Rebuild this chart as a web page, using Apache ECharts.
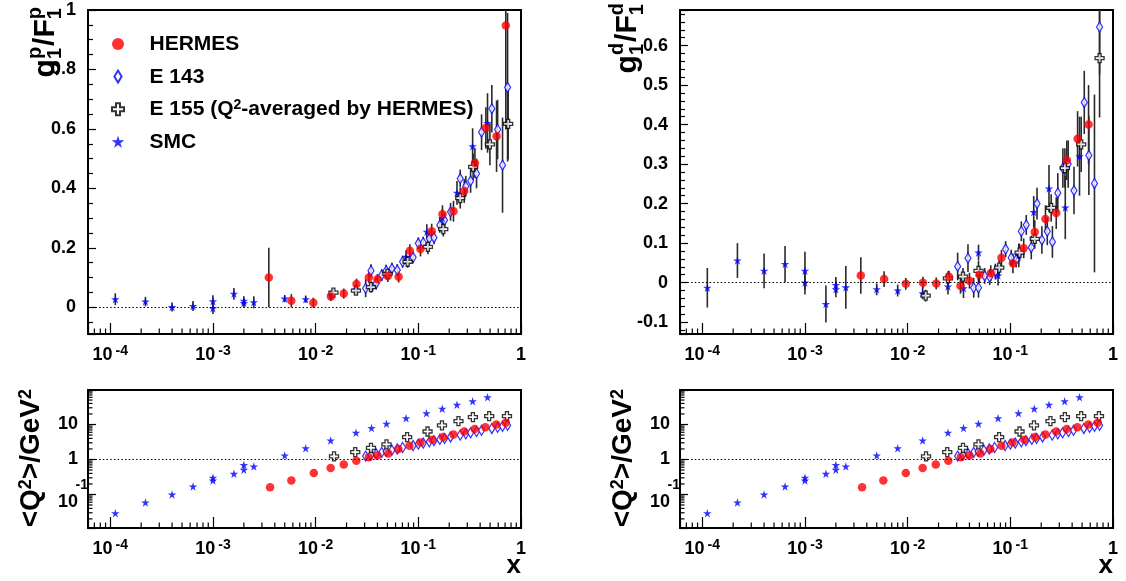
<!DOCTYPE html>
<html>
<head>
<meta charset="utf-8">
<script src="https://cdn.jsdelivr.net/npm/echarts@6.0.0/dist/echarts.min.js"></script>
<style>
  html, body { margin: 0; padding: 0; background: #fff; }
  #main { width: 1126px; height: 581px; }
</style>
</head>
<body>
<div id="main"></div>
<script>
// proton, g1/F1 : [x, value, error]
var hermesP = [
  [0.0035, 0.100, 0.100], [0.0058, 0.022, 0.022], [0.0095, 0.015, 0.017], [0.0141, 0.036, 0.015],
  [0.0188, 0.046, 0.017], [0.0250, 0.078, 0.018], [0.0330, 0.100, 0.018], [0.0400, 0.094, 0.018],
  [0.0505, 0.105, 0.020], [0.0643, 0.103, 0.020], [0.0828, 0.190, 0.022], [0.1050, 0.196, 0.025],
  [0.1350, 0.256, 0.025], [0.1720, 0.313, 0.030], [0.2200, 0.323, 0.035], [0.2800, 0.391, 0.040],
  [0.3560, 0.485, 0.050], [0.4550, 0.603, 0.070], [0.5780, 0.575, 0.120], [0.7110, 0.948, 0.350]
];
var e143P = [
  [0.0307, 0.064, 0.030], [0.0346, 0.123, 0.022], [0.0389, 0.080, 0.020], [0.0440, 0.108, 0.020],
  [0.0486, 0.123, 0.020], [0.0553, 0.130, 0.020], [0.0624, 0.125, 0.020], [0.0703, 0.153, 0.020],
  [0.0890, 0.168, 0.020], [0.1000, 0.215, 0.020], [0.1117, 0.217, 0.020], [0.1280, 0.231, 0.022],
  [0.1420, 0.234, 0.022], [0.1620, 0.276, 0.025], [0.1800, 0.293, 0.025], [0.2060, 0.321, 0.030],
  [0.2560, 0.433, 0.030], [0.2900, 0.407, 0.035], [0.3230, 0.425, 0.040], [0.3690, 0.450, 0.050],
  [0.4130, 0.589, 0.060], [0.5200, 0.668, 0.080], [0.5920, 0.598, 0.100], [0.6610, 0.478, 0.160],
  [0.7400, 0.740, 0.250]
];
var e155P = [
  [0.0149, 0.049, 0.012], [0.0247, 0.056, 0.015], [0.0346, 0.068, 0.018], [0.0500, 0.112, 0.020],
  [0.0787, 0.153, 0.020], [0.1240, 0.203, 0.025], [0.1750, 0.263, 0.025], [0.2560, 0.367, 0.035],
  [0.3420, 0.472, 0.045], [0.4980, 0.548, 0.070], [0.7500, 0.617, 0.120]
];
var smcP = [
  [0.000112, 0.027, 0.020], [0.00022, 0.019, 0.016], [0.00040, 0.001, 0.015], [0.00064, 0.004, 0.017],
  [0.00100, 0.020, 0.020], [0.00100, -0.003, 0.020], [0.0016, 0.045, 0.020], [0.0020, 0.022, 0.015],
  [0.0020, 0.014, 0.015], [0.0025, 0.017, 0.020], [0.0050, 0.029, 0.012], [0.0080, 0.027, 0.012],
  [0.0140, 0.040, 0.015], [0.0247, 0.060, 0.015], [0.0350, 0.069, 0.018], [0.0490, 0.115, 0.020],
  [0.0760, 0.170, 0.022], [0.1210, 0.254, 0.025], [0.1710, 0.300, 0.030], [0.2380, 0.385, 0.040],
  [0.3380, 0.542, 0.060], [0.4720, 0.620, 0.100]
];

// deuteron, g1/F1 : [x, value, error]
var hermesD = [
  [0.0035, 0.018, 0.046], [0.0059, 0.009, 0.020], [0.0096, -0.003, 0.015], [0.0141, 0.000, 0.015],
  [0.0190, -0.002, 0.015], [0.0253, 0.015, 0.015], [0.0327, -0.008, 0.020], [0.0400, 0.005, 0.020],
  [0.0500, 0.020, 0.020], [0.0645, 0.024, 0.020], [0.0820, 0.063, 0.020], [0.1060, 0.049, 0.025],
  [0.1350, 0.087, 0.025], [0.1730, 0.128, 0.030], [0.2200, 0.161, 0.035], [0.2800, 0.176, 0.040],
  [0.3550, 0.310, 0.050], [0.4520, 0.364, 0.070], [0.5780, 0.400, 0.100]
];
var e143D = [
  [0.0307, 0.041, 0.035], [0.0387, 0.062, 0.035], [0.0440, -0.013, 0.025], [0.0490, -0.013, 0.025],
  [0.0563, 0.017, 0.020], [0.0630, 0.014, 0.020], [0.0715, 0.028, 0.020], [0.0900, 0.085, 0.020],
  [0.1020, 0.063, 0.020], [0.1140, 0.058, 0.020], [0.1280, 0.130, 0.025], [0.1430, 0.146, 0.025],
  [0.1600, 0.089, 0.030], [0.1820, 0.200, 0.040], [0.2030, 0.108, 0.035], [0.2290, 0.130, 0.035],
  [0.2570, 0.103, 0.040], [0.2900, 0.227, 0.050], [0.3250, 0.290, 0.050], [0.3660, 0.300, 0.060],
  [0.4170, 0.233, 0.060], [0.5250, 0.456, 0.080], [0.5820, 0.322, 0.100], [0.6600, 0.251, 0.225],
  [0.7400, 0.647, 0.120]
];
var e155D = [
  [0.0150, -0.033, 0.015], [0.0247, 0.011, 0.018], [0.0346, 0.015, 0.022], [0.0490, 0.030, 0.025],
  [0.0780, 0.038, 0.020], [0.1230, 0.076, 0.022], [0.1730, 0.111, 0.025], [0.2500, 0.189, 0.035],
  [0.3400, 0.290, 0.050], [0.4900, 0.350, 0.070], [0.7400, 0.568, 0.150]
];
var smcD = [
  [0.000112, -0.013, 0.050], [0.00022, 0.056, 0.044], [0.00040, 0.030, 0.044], [0.00064, 0.047, 0.046],
  [0.00100, 0.030, 0.048], [0.00100, 0.000, 0.030], [0.0016, -0.054, 0.047], [0.0020, -0.006, 0.020],
  [0.0020, -0.017, 0.020], [0.0025, -0.012, 0.054], [0.0050, -0.017, 0.015], [0.0080, -0.020, 0.015],
  [0.0140, -0.027, 0.015], [0.0247, -0.010, 0.020], [0.0350, -0.014, 0.025], [0.0490, 0.076, 0.020],
  [0.0760, 0.018, 0.025], [0.1210, 0.069, 0.030], [0.1690, 0.179, 0.040], [0.2380, 0.238, 0.060],
  [0.3430, 0.190, 0.080], [0.4720, 0.320, 0.100]
];

// <Q^2> in GeV^2 : [x, Q2]
var hermesQ2 = [
  [0.0036, 0.16], [0.0058, 0.25], [0.0096, 0.41], [0.0140, 0.57], [0.0188, 0.72], [0.0249, 0.92],
  [0.0330, 1.15], [0.0400, 1.30], [0.0510, 1.49], [0.0640, 1.98], [0.0820, 2.47], [0.1050, 3.08],
  [0.1370, 3.65], [0.1740, 4.37], [0.2200, 5.2], [0.2800, 6.3], [0.3540, 7.4], [0.4500, 8.4],
  [0.5740, 10.0], [0.7100, 11.2]
];
var e143Q2 = [
  [0.0307, 1.25], [0.0346, 1.35], [0.0389, 1.45], [0.0440, 1.6], [0.0486, 1.7], [0.0553, 1.85],
  [0.0624, 2.0], [0.0703, 2.2], [0.0890, 2.5], [0.1000, 2.75], [0.1117, 2.95], [0.1280, 3.2],
  [0.1420, 3.45], [0.1620, 3.75], [0.1800, 4.0], [0.2060, 4.4], [0.2560, 5.0], [0.2900, 5.4],
  [0.3230, 5.8], [0.3690, 6.3], [0.4130, 6.8], [0.5200, 7.7], [0.5920, 8.3], [0.6610, 8.9],
  [0.7400, 9.5]
];
var e155Q2 = [
  [0.0151, 1.22], [0.0243, 1.62], [0.0346, 2.15], [0.0490, 2.7], [0.0778, 4.37], [0.1230, 6.3],
  [0.1700, 9.4], [0.2460, 12.5], [0.3400, 16.2], [0.4900, 17.4], [0.7300, 17.4]
];
var smcQ2 = [
  [0.000112, 0.029], [0.00022, 0.059], [0.00040, 0.10], [0.00064, 0.17], [0.00100, 0.30],
  [0.00100, 0.25], [0.0016, 0.39], [0.0020, 0.51], [0.0020, 0.70], [0.0025, 0.63], [0.0050, 1.30],
  [0.0080, 2.1], [0.0140, 3.5], [0.0247, 5.8], [0.0350, 7.9], [0.0490, 10.5], [0.0760, 15],
  [0.1200, 21], [0.1710, 28], [0.2380, 36.5], [0.3380, 46], [0.4720, 60]
];

var FONT = '"Liberation Sans", Arial, Helvetica, sans-serif';
var E155 = 'E 155 (Q2-averaged by HERMES)';
var legendNames = ['HERMES', 'E 143', E155, 'SMC'];

var xMin = 6.07e-5, xMax = 1;
var yRange = [[-0.09, 1.0], [-0.13, 0.69], [0.011, 96.8], [0.011, 96.8]];
var grids = [
  { left: 88, top: 10, width: 433, height: 324 },
  { left: 680, top: 10, width: 433, height: 324 },
  { left: 88, top: 390, width: 433, height: 138 },
  { left: 680, top: 390, width: 433, height: 138 }
];

var STAR = 'path://M50,0L61.2,34.5L97.6,34.5L68.2,55.9L79.4,90.5L50,69.1L20.6,90.5L31.8,55.9L2.4,34.5L38.8,34.5Z';
var CROSS = 'path://M3,0H6V3H9V6H6V9H3V6H0V3H3Z';
var DIAMOND = 'path://M3,0L6,5L3,10L0,5Z';
var styles = {
  'HERMES': { symbol: 'circle', size: 8.5, item: { color: '#ff0000' } },
  'E 143': { symbol: DIAMOND, size: [6, 10], item: { color: '#ffffff', borderColor: '#0000ff', borderWidth: 1.3 } },
  'SMC': { symbol: STAR, size: 8.5, item: { color: '#0000ff' } }
};
styles[E155] = { symbol: CROSS, size: 9, item: { color: '#ffffff', borderColor: '#000000', borderWidth: 1.3 } };

function bold(size, extra) {
  var o = { fontFamily: FONT, fontWeight: 'bold', fontSize: size, color: '#000' };
  for (var k in extra) o[k] = extra[k];
  return o;
}

// 2..9 x 10^k positions for the log axes' small ticks
function decadeMinors(lo, hi) {
  var v = [];
  for (var k = -6; k <= 3; k++) {
    for (var m = 2; m <= 9; m++) {
      var t = m * Math.pow(10, k);
      if (t > lo && t < hi) v.push(t);
    }
  }
  return v;
}

function xLogLabel(v) {
  var l = Math.log10(v), e = Math.round(l);
  if (Math.abs(l - e) > 1e-6) return '';
  if (e === 0) return '{b|1}';
  return '{b|10}{s|' + e + '}';
}
function yLogLabel(v) {
  var l = Math.log10(v), e = Math.round(l);
  if (Math.abs(l - e) > 1e-6) return '';
  if (e === 0) return '{b|1}';
  if (e > 0) return '{b|10}';
  return '{s|' + e + '}\n{bb|10}';
}
function linLabel(v) {
  var t = Math.round(v * 10);
  if (Math.abs(v * 10 - t) > 1e-6) return '';
  return String(t / 10);
}

var xRich = {
  b: bold(18, { lineHeight: 20, padding: [9, 0, 0, 0], verticalAlign: 'bottom' }),
  s: bold(14, { lineHeight: 14, padding: [0, 0, 0, 3], verticalAlign: 'top' })
};
var yRich = {
  b: bold(18, { lineHeight: 18, padding: [0, 10, 0, 0] }),
  s: bold(14, { lineHeight: 16 }),
  bb: bold(18, { lineHeight: 18, padding: [0, 10, 14, 0], verticalAlign: 'top' })
};

var axisLine = { show: true, onZero: false, lineStyle: { color: '#000', width: 2 } };

var xAxes = [], yAxes = [];
for (var i = 0; i < 4; i++) {
  xAxes.push({
    type: 'log', logBase: 10, gridIndex: i, min: xMin, max: xMax,
    axisLine: axisLine,
    axisTick: { show: true, inside: true, length: 11, lineStyle: { color: '#000', width: 1.2 } },
    splitLine: { show: false },
    axisLabel: bold(18, { margin: 10, formatter: xLogLabel, rich: xRich, hideOverlap: false })
  });
  if (i < 2) {
    yAxes.push({
      type: 'value', gridIndex: i, min: yRange[i][0], max: yRange[i][1],
      splitNumber: i === 0 ? 5 : 8,
      axisLine: axisLine,
      axisTick: { show: true, inside: true, length: 8, lineStyle: { color: '#000', width: 1.2 } },
      minorTick: { show: true, splitNumber: i === 0 ? 4 : 5, length: 5, lineStyle: { color: '#000', width: 1.2 } },
      splitLine: { show: false },
      axisLabel: bold(18, { margin: 12, formatter: linLabel, hideOverlap: false })
    });
  } else {
    yAxes.push({
      type: 'log', logBase: 10, gridIndex: i, min: yRange[i][0], max: yRange[i][1],
      axisLine: axisLine,
      axisTick: { show: true, inside: true, length: 8, lineStyle: { color: '#000', width: 1.2 } },
      splitLine: { show: false },
      axisLabel: bold(18, { margin: 0, formatter: yLogLabel, rich: yRich, hideOverlap: false })
    });
  }
}

function tickSeries(i, withY) {
  var yr = yRange[i];
  var d = decadeMinors(xMin, xMax).map(function (v) { return [v, yr[0], 0]; });
  if (withY) d = d.concat(decadeMinors(yr[0], yr[1]).map(function (v) { return [xMin, v, 1]; }));
  return {
    type: 'custom', xAxisIndex: i, yAxisIndex: i, silent: true, z: 6, data: d,
    renderItem: function (p, api) {
      var c = api.coord([api.value(0), api.value(1)]);
      var horiz = api.value(2) === 1;
      return {
        type: 'line',
        shape: horiz ? { x1: c[0], y1: c[1], x2: c[0] + 4.5, y2: c[1] }
                     : { x1: c[0], y1: c[1], x2: c[0], y2: c[1] - 5.5 },
        style: { stroke: '#000', lineWidth: 1.2 }
      };
    }
  };
}

function errSeries(i, data) {
  var yr = yRange[i];
  return {
    type: 'custom', xAxisIndex: i, yAxisIndex: i, silent: true, z: 2, data: data,
    renderItem: function (p, api) {
      var x = api.value(0), y = api.value(1), e = api.value(2);
      var a = api.coord([x, Math.max(y - e, yr[0])]);
      var b = api.coord([x, Math.min(y + e, yr[1])]);
      return { type: 'line', shape: { x1: a[0], y1: a[1], x2: b[0], y2: b[1] },
               style: { stroke: '#2a2a2a', lineWidth: 1.6 } };
    }
  };
}

function markSeries(i, name, data, refLine) {
  var st = styles[name];
  var s = {
    type: 'scatter', name: name, xAxisIndex: i, yAxisIndex: i, data: data, silent: true, z: 3,
    symbol: st.symbol, symbolSize: st.size, itemStyle: st.item
  };
  if (refLine != null) {
    s.markLine = {
      silent: true, symbol: ['none', 'none'], label: { show: false }, animation: false,
      lineStyle: { type: [1.5, 2.2], color: '#000', width: 1.2 },
      data: [{ yAxis: refLine }]
    };
  }
  return s;
}

var panels = [
  { hermes: hermesP, e143: e143P, e155: e155P, smc: smcP, err: true, ref: 0 },
  { hermes: hermesD, e143: e143D, e155: e155D, smc: smcD, err: true, ref: 0 },
  { hermes: hermesQ2, e143: e143Q2, e155: e155Q2, smc: smcQ2, err: false, ref: 1 },
  { hermes: hermesQ2, e143: e143Q2, e155: e155Q2, smc: smcQ2, err: false, ref: 1 }
];

var series = [];
panels.forEach(function (pn, i) {
  if (pn.err) {
    series.push(errSeries(i, pn.smc), errSeries(i, pn.e143), errSeries(i, pn.e155), errSeries(i, pn.hermes));
  }
  series.push(markSeries(i, 'E 143', pn.e143));
  series.push(markSeries(i, 'SMC', pn.smc));
  series.push(markSeries(i, E155, pn.e155));
  series.push(markSeries(i, 'HERMES', pn.hermes, pn.ref));
  series.push(tickSeries(i, !pn.err));
});

// rotated axis titles; sub/superscripts stacked the way ROOT's TLatex does it
var measureCtx = document.createElement('canvas').getContext('2d');
function textW(t, size) {
  measureCtx.font = 'bold ' + size + 'px ' + FONT;
  return measureCtx.measureText(t).width;
}
function rotText(x, y, t, size) {
  return {
    type: 'text', x: x, y: y, rotation: Math.PI / 2, silent: true,
    style: { text: t, fontFamily: FONT, fontWeight: 'bold', fontSize: size, fill: '#000',
             align: 'left', verticalAlign: 'middle' }
  };
}
function stackedTitle(xc, yTop, parts, big, small) {
  var lens = parts.map(function (p) {
    return typeof p === 'string' ? textW(p, big) : Math.max(textW(p[0], small), textW(p[1], small)) + 1;
  });
  var pos = yTop + lens.reduce(function (a, b) { return a + b; }, 0);
  var els = [];
  parts.forEach(function (p, k) {
    if (typeof p === 'string') {
      els.push(rotText(xc, pos, p, big));
    } else {
      els.push(rotText(xc + big * 0.3, pos, p[0], small));
      els.push(rotText(xc - big * 0.36, pos, p[1], small));
    }
    pos -= lens[k];
  });
  return els;
}
function rotRich(x, y, text, rich) {
  return {
    type: 'text', x: x, y: y, rotation: Math.PI / 2, silent: true,
    style: { text: text, rich: rich, align: 'right', verticalAlign: 'middle', fill: '#000',
             fontFamily: FONT, fontWeight: 'bold' }
  };
}
var qRich = {
  m: bold(28, { lineHeight: 28, padding: [6, 0, 0, 0], verticalAlign: 'bottom' }),
  sp: bold(18, { lineHeight: 18, verticalAlign: 'top' })
};

var graphics = []
  .concat(stackedTitle(46, 6, ['g', ['1', 'p'], '/F', ['1', 'p']], 30, 20))
  .concat(stackedTitle(628, 2, ['g', ['1', 'd'], '/F', ['1', 'd']], 30, 20))
  .concat([
    rotRich(31, 389, '{m|<Q}{sp|2}{m|>/GeV}{sp|2}', qRich),
    rotRich(623, 389, '{m|<Q}{sp|2}{m|>/GeV}{sp|2}', qRich),
    { type: 'text', x: 521, y: 566, silent: true,
      style: { text: 'x', fontFamily: FONT, fontWeight: 'bold', fontSize: 26, fill: '#000', align: 'right', verticalAlign: 'middle' } },
    { type: 'text', x: 1113, y: 566, silent: true,
      style: { text: 'x', fontFamily: FONT, fontWeight: 'bold', fontSize: 26, fill: '#000', align: 'right', verticalAlign: 'middle' } }
  ]);

var chart = echarts.init(document.getElementById('main'), null, { renderer: 'canvas' });
chart.setOption({
  animation: false,
  backgroundColor: '#fff',
  grid: grids.map(function (g) {
    return { left: g.left, top: g.top, width: g.width, height: g.height, show: true,
             borderColor: '#000', borderWidth: 2, backgroundColor: 'transparent',
             containLabel: false, outerBoundsMode: 'none' };
  }),
  xAxis: xAxes,
  yAxis: yAxes,
  legend: {
    left: 111, top: 30, orient: 'vertical', padding: 0, selectedMode: false,
    itemWidth: 53, itemHeight: 12, itemGap: 7.6,
    data: legendNames,
    formatter: function (name) {
      if (name === E155) return '{t|E 155 (Q}{sup|2}{t|-averaged by HERMES)}';
      return '{t|' + name + '}';
    },
    textStyle: bold(21, {
      rich: {
        t: bold(21, { lineHeight: 22, padding: [4, 0, 0, 0], verticalAlign: 'bottom' }),
        sup: bold(14, { lineHeight: 14, verticalAlign: 'top' })
      }
    })
  },
  graphic: graphics,
  series: series
});
</script>
</body>
</html>
